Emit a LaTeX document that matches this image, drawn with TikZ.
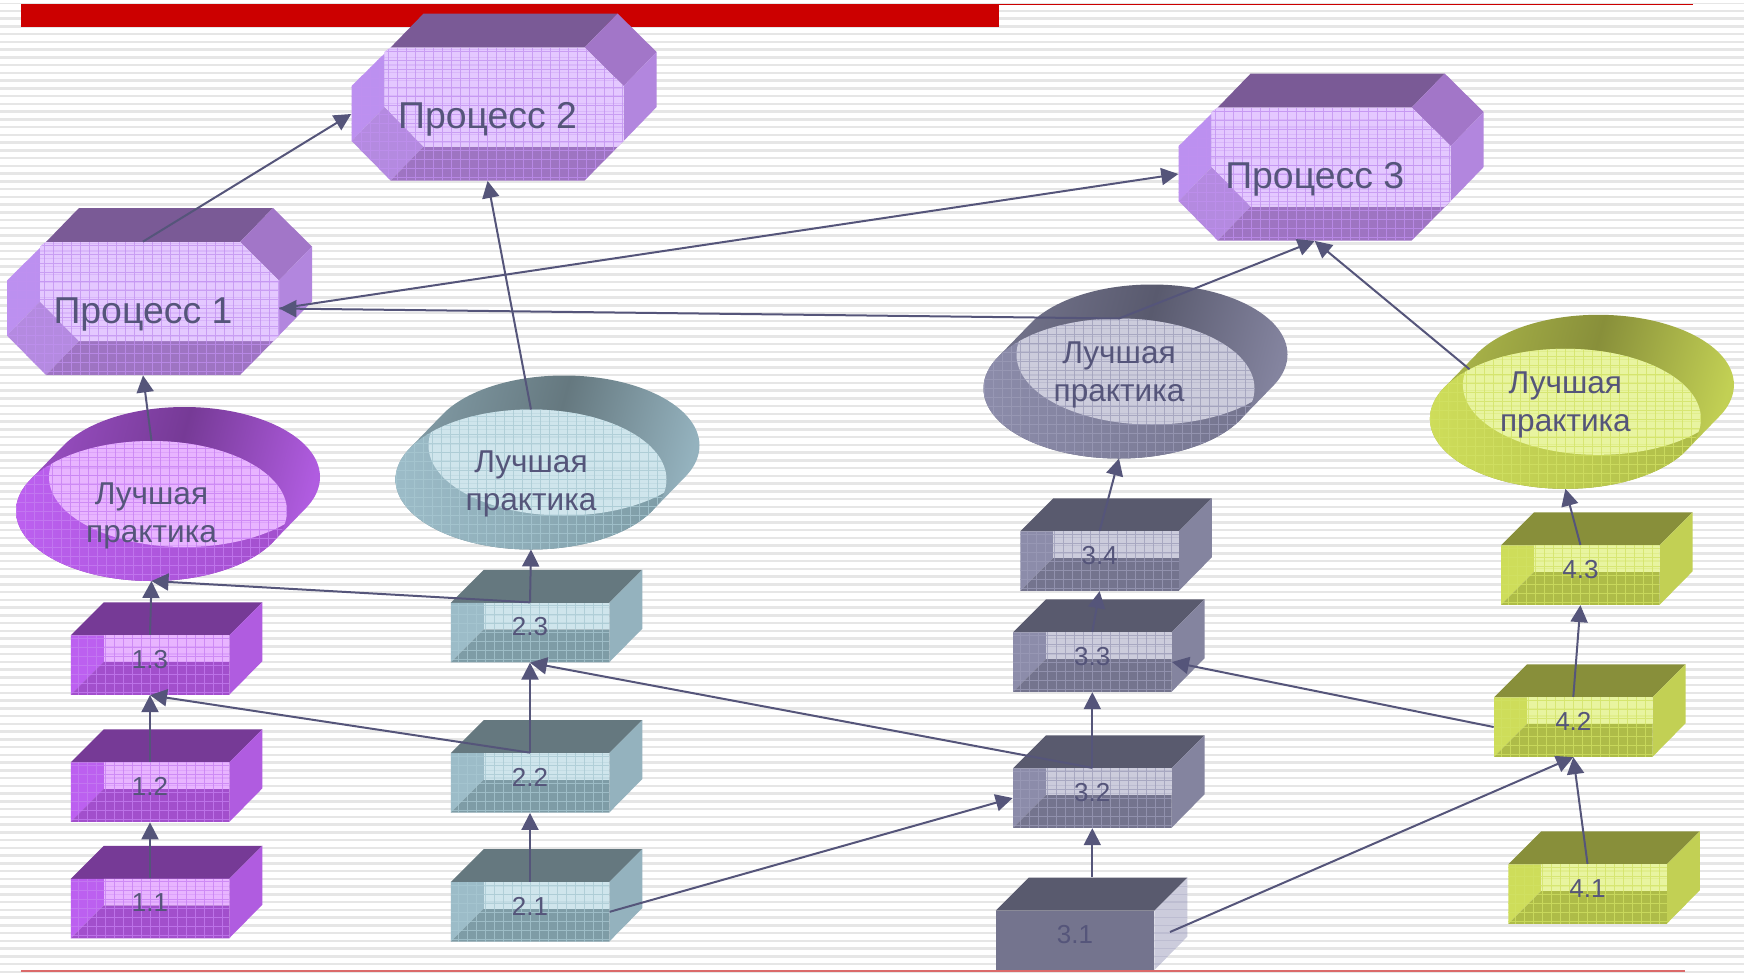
\documentclass[tikz,border=0pt]{standalone}
\usepackage{fontspec}
\setmainfont{Liberation Sans}
\usetikzlibrary{arrows.meta,calc,shapes.geometric}
\definecolor{vitop}{HTML}{763A96}
\definecolor{viright}{HTML}{B05CE0}
\definecolor{vileft}{HTML}{BC60F0}
\definecolor{vibot}{HTML}{A24FCC}
\definecolor{vilight}{HTML}{E8B4FF}
\definecolor{vigrid}{HTML}{C67EF2}
\definecolor{tetop}{HTML}{65787F}
\definecolor{teright}{HTML}{94B2BE}
\definecolor{teleft}{HTML}{9CBCC8}
\definecolor{tebot}{HTML}{7E9CA6}
\definecolor{telight}{HTML}{CFE5EC}
\definecolor{tegrid}{HTML}{A8C8D2}
\definecolor{grtop}{HTML}{595A6E}
\definecolor{grright}{HTML}{84849F}
\definecolor{grleft}{HTML}{8C8CAA}
\definecolor{grbot}{HTML}{74748E}
\definecolor{grlight}{HTML}{CCCCDC}
\definecolor{grgrid}{HTML}{9C9CB8}
\definecolor{oltop}{HTML}{888F3A}
\definecolor{olright}{HTML}{C2D054}
\definecolor{olleft}{HTML}{CEDD5A}
\definecolor{olbot}{HTML}{AEBC48}
\definecolor{ollight}{HTML}{E8F4A0}
\definecolor{olgrid}{HTML}{D2E264}
\definecolor{litop}{HTML}{7A5A96}
\definecolor{lichamfer}{HTML}{A276C8}
\definecolor{liright}{HTML}{B286DE}
\definecolor{lileft}{HTML}{BC90F0}
\definecolor{licorner}{HTML}{B48AE0}
\definecolor{libot}{HTML}{9E74C2}
\definecolor{lilight}{HTML}{E4C8FF}
\definecolor{ligrid}{HTML}{C090F0}
\definecolor{inkc}{HTML}{55557A}
\definecolor{stripec}{HTML}{E6E6E6}
\definecolor{barc}{HTML}{CC0000}
\definecolor{rulec}{HTML}{DB6A6A}
\tikzset{
    link/.style = {
        -{Triangle[length=8.5pt,width=8.5pt]},
        draw=inkc,
        line width=1pt,
        },
    stripe/.style = {
        stripec,
        line width=1.25pt,
        },
    glass/.style = {
        #1,
        line width=0.6pt,
        opacity=0.3,
        },
    mesh/.style = {
        #1,
        line width=0.3pt,
        opacity=0.75,
        step=4.5pt,
        },
    boxnode/.style = {
        rectangle,
        inner sep=0pt,
        minimum width=79.25pt,
        minimum height=29.75pt,
        },
    procnode/.style = {
        rectangle,
        inner sep=0pt,
        minimum width=136pt,
        minimum height=66.5pt,
        },
    bestnode/.style = {
        ellipse,
        inner sep=0pt,
        outer sep=0pt,
        minimum width=135.5pt,
        minimum height=70pt,
        },
    boxtext/.style = {
        text=inkc,
        font=\fontsize{13}{15}\selectfont,
        text height=9.3pt,
        text depth=0pt,
        inner sep=0pt,
        },
    proctext/.style = {
        text=inkc,
        font=\fontsize{18.7}{22}\selectfont,
        text height=13.4pt,
        text depth=0pt,
        inner sep=0pt,
        },
    besttext/.style = {
        text=inkc,
        align=center,
        font=\fontsize{15.8}{19}\selectfont,
        inner sep=0pt,
        },
}
\newcommand{\lines}[1]{\foreach \i in {0,...,125} \draw[#1] (0,{3+7.75*\i}) -- (1744,{3+7.75*\i});}

% #1 colours, #2 name, #3 centre, #4 text
\newcommand{\stepbox}[4]{
    \begin{scope}[shift={(#3)}]
        \fill[#1top] (-79.25,-29.75) -- (-46.25,-62.75) -- (112.25,-62.75) -- (79.25,-29.75) -- cycle;
        \fill[#1right] (79.25,-29.75) -- (112.25,-62.75) -- (112.25,-3.75) -- (79.25,29.75) -- cycle;
        \fill[#1left] (-79.25,-29.75) -- (-46.25,-29.75) -- (-46.25,-3.25) -- (-79.25,29.75) -- cycle;
        \fill[#1bot] (-46.25,-3.25) -- (79.25,-3.25) -- (79.25,29.75) -- (-79.25,29.75) -- cycle;
        \begin{scope}
            \clip (-46.25,-29.75) rectangle (79.25,-3.25);
            \fill[#1light] (-46.25,-29.75) rectangle (79.25,-3.25);
            \begin{scope}[shift={($(0,0)-(#3)$)}]
                \lines{glass=#1grid}
            \end{scope}
        \end{scope}
        \draw[mesh=#1grid] (-79.25,-29.75) grid (79.25,29.75);
    \end{scope}
    \node[boxnode] (#2) at (#3) {};
    \node[boxtext, yshift=3pt] (#2t) at (#2) {#4};
}

% #1 colours, #2 name, #3 centre, #4 text shift
\newcommand{\bestshape}[4]{
    \begin{scope}[shift={(#3)}]
        \shade[left color=#1right!60!#1top, right color=#1right, middle color=#1top, shading angle=75]
            (0,0) ellipse [x radius=135.5, y radius=70]
            (33,-34) ellipse [x radius=135.5, y radius=70]
            (-121.2,-31.3) -- (-88.2,-65.3) -- (154.2,-2.7) -- (121.2,31.3) -- cycle;
        \shade[left color=#1left, right color=#1bot] (0,0) ellipse [x radius=135.5, y radius=70];
        \begin{scope}
            \clip (0,0) ellipse [x radius=135.5, y radius=70];
            \clip (33,-34) ellipse [x radius=135.5, y radius=70];
            \fill[#1light] (-140,-110) rectangle (140,80);
            \begin{scope}[shift={($(0,0)-(#3)$)}]
                \lines{glass=#1grid}
            \end{scope}
        \end{scope}
        \begin{scope}
            \clip (0,0) ellipse [x radius=135.5, y radius=70];
            \draw[mesh=#1grid] (-140,-75) grid (140,75);
        \end{scope}
    \end{scope}
    \node[bestnode] (#2) at (#3) {};
    \node[besttext, yshift=#4] (#2t) at (#2) {Лучшая\\практика};
}

% #1 name, #2 centre, #3 text
\newcommand{\procshape}[3]{
    \begin{scope}[shift={(#2)}]
        \fill[litop] (-97,-66.5) -- (-64,-100.5) -- (130,-100.5) -- (97,-66.5) -- cycle;
        \fill[lichamfer] (97,-66.5) -- (130,-100.5) -- (169,-62) -- (136,-28) -- cycle;
        \fill[liright] (136,-28) -- (169,-62) -- (169,-7) -- (136,27) -- cycle;
        \fill[lileft] (-136,-28) -- (-97,-66.5) -- (-103,-62) -- (-103,-7) -- (-136,27) -- cycle;
        \fill[licorner] (-136,27) -- (-103,-7) -- (-64,32.5) -- (-97,66.5) -- cycle;
        \fill[libot] (-64,32.5) -- (130,32.5) -- (136,27) -- (97,66.5) -- (-97,66.5) -- cycle;
        \begin{scope}
            \clip (-97,-66.5) -- (97,-66.5) -- (136,-28) -- (136,27) -- (130,32.5) -- (-64,32.5) -- (-103,-7) -- (-103,-62) -- cycle;
            \fill[lilight] (-140,-70) rectangle (140,70);
            \begin{scope}[shift={($(0,0)-(#2)$)}]
                \lines{glass=ligrid}
            \end{scope}
        \end{scope}
        \begin{scope}
            \clip (-97,-66.5) -- (97,-66.5) -- (136,-28) -- (136,27) -- (97,66.5) -- (-97,66.5) -- (-136,27) -- (-136,-28) -- cycle;
            \draw[mesh=ligrid] (-140,-70) grid (140,70);
        \end{scope}
    \end{scope}
    \node[procnode] (#1) at (#2) {};
    \node[proctext, yshift=-0.7pt] (#1t) at (#1) {#3};
}

\begin{document}
\begin{tikzpicture}[x=0.5pt,y=-0.5pt]
    \useasboundingbox (0,0) rectangle (1744,975);
    \fill[white] (0,0) rectangle (1744,975);
    \lines{stripe}

    \fill[white] (0,0) rectangle (1744,3);
    \fill[barc] (21,3.5) rectangle (999,26.5);
    \fill[barc] (999,3.5) rectangle (1693,5);
    \fill[rulec] (21,970) rectangle (1685,972);

    \procshape{p1}{143,308.5}{Процесс 1}
    \procshape{p2}{487.6,114}{Процесс 2}
    \procshape{p3}{1314.7,174}{Процесс 3}

    \bestshape{vi}{e1}{151.5,511}{-2.5pt}
    \bestshape{te}{e2}{531,479.5}{-2.2pt}
    \bestshape{gr}{e3}{1119,388.5}{6.8pt}
    \bestshape{ol}{e4}{1565.4,418.8}{6.8pt}

    \stepbox{vi}{b11}{150,908.5}{1.1}
    \stepbox{vi}{b12}{150,792.2}{1.2}
    \stepbox{vi}{b13}{150,665}{1.3}
    \stepbox{te}{b21}{530,911.8}{2.1}
    \stepbox{te}{b22}{530,782.8}{2.2}
    \stepbox{te}{b23}{530,632.5}{2.3}
    \stepbox{gr}{b32}{1092.3,798}{3.2}
    \stepbox{gr}{b33}{1092.3,662}{3.3}
    \stepbox{gr}{b34}{1099.6,561}{3.4}
    \stepbox{ol}{b41}{1587.5,894}{4.1}
    \stepbox{ol}{b42}{1573.3,727}{4.2}
    \stepbox{ol}{b43}{1580.4,575}{4.3}

    % this one is drawn plain, not hollow
    \begin{scope}[shift={(1075,940.4)}]
        \fill[grlight] (79.25,-29.75) -- (112.25,-62.75) -- (112.25,-3.75) -- (79.25,29.75) -- cycle;
        \begin{scope}
            \clip (79.25,-29.75) -- (112.25,-62.75) -- (112.25,-3.75) -- (79.25,29.75) -- cycle;
            \begin{scope}[shift={($(0,0)-(1075,940.4)$)}]
                \lines{glass=grgrid}
            \end{scope}
        \end{scope}
        \fill[grtop] (-79.25,-29.75) -- (-46.25,-62.75) -- (112.25,-62.75) -- (79.25,-29.75) -- cycle;
        \fill[grbot] (-79.25,-29.75) rectangle (79.25,29.75);
    \end{scope}
    \node[boxnode] (b31) at (1075,940.4) {};
    \node[boxtext, yshift=3pt] (b31t) at (b31) {3.1};
    \coordinate (b31up) at (1092.3,877);
    \coordinate (b31out) at (1170,932);

    \draw[link] (b11.north) -- (b12.south);
    \draw[link] (b12.north) -- (b13.south);
    \draw[link] (b13.north) -- (e1.south);
    \draw[link] (b22.north) -- (b13.south);
    \draw[link] (b23.north) -- (e1.south);
    \draw[link] (e1.north) -- (p1.south);
    \draw[link] (p1.north) -- (p2.west);
    \draw[link] (p1.east) -- (p3.west);

    \draw[link] (b21.north) -- (b22.south);
    \draw[link] (b22.north) -- (b23.south);
    \draw[link] (b23.north) -- (e2.south);
    \draw[link] (e2.north) -- (p2.south);
    \draw[link] (b21.east) -- (b32.west);

    \draw[link] (b31up) -- (b32.south);
    \draw[link] (b32.north) -- (b33.south);
    \draw[link] (b32.north) -- (b23.south);
    \draw[link] (b33.north) -- (b34.south);
    \draw[link] (b34.north) -- (e3.south);
    \draw[link] (e3.north) -- (p1.east);
    \draw[link] (e3.north) -- (p3.south);
    \draw[link] (b31out) -- (b42.south);

    \draw[link] (b41.north) -- (b42.south);
    \draw[link] (b42.north) -- (b43.south);
    \draw[link] (b43.north) -- (e4.south);
    \draw[link] (b42.west) -- (b33.east);
    \draw[link] (e4.north west) -- (p3.south);
\end{tikzpicture}
\end{document}
